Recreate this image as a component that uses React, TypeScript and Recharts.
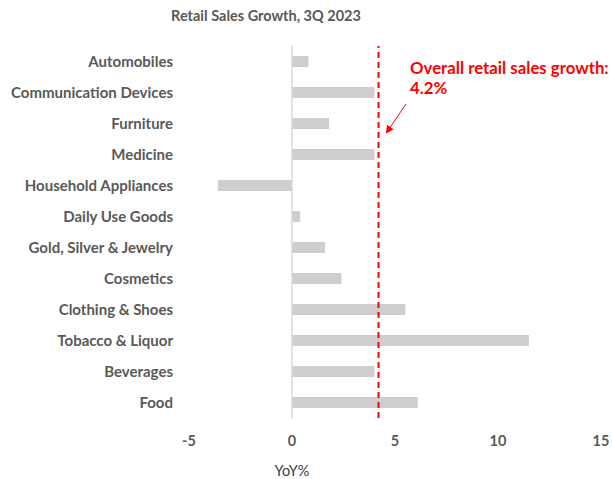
import {
  Bar,
  BarChart,
  ReferenceLine,
  XAxis,
  YAxis,
} from "recharts"

const categories = [
  "Automobiles",
  "Communication Devices",
  "Furniture",
  "Medicine",
  "Household Appliances",
  "Daily Use Goods",
  "Gold, Silver & Jewelry",
  "Cosmetics",
  "Clothing & Shoes",
  "Tobacco & Liquor",
  "Beverages",
  "Food",
]

const growth = [0.8, 4.0, 1.8, 4.0, -3.6, 0.4, 1.6, 2.4, 5.5, 11.5, 4.0, 6.1]

const xTicks = [-5, 0, 5, 10, 15]

const overallGrowth = 4.2

const FONT = "Lato, 'Open Sans', sans-serif"

export default function App() {
  const chartData = categories.map((name, i) => ({ name, value: growth[i] }))

  return (
    <div style={{ position: "absolute", left: 0, top: 0, width: 612, height: 479, background: "#fff", fontFamily: FONT }}>
      <BarChart
        width={612}
        height={479}
        data={chartData}
        layout="vertical"
        margin={{ top: 46, right: 11, left: 0, bottom: 0 }}
        barCategoryGap={20}
      >
        <XAxis
          type="number"
          domain={[-5, 15]}
          ticks={xTicks}
          axisLine={false}
          tickLine={false}
          tick={{ fill: "#595959", fontSize: 14.5, fontWeight: 700, fontFamily: FONT }}
          height={61}
          tickMargin={12}
        />
        <YAxis
          type="category"
          dataKey="name"
          axisLine={false}
          tickLine={false}
          width={189}
          tickMargin={10}
          interval={0}
          tick={{ fill: "#595959", fontSize: 15, fontWeight: 700, fontFamily: FONT }}
        />
        <ReferenceLine x={0} stroke="#d9d9d9" strokeWidth={1.5} />
        <Bar dataKey="value" fill="#cfcdcd" barSize={11} isAnimationActive={false} />
        <ReferenceLine
          x={overallGrowth}
          stroke="#ff0000"
          strokeWidth={2}
          strokeDasharray="6 4"
        />
      </BarChart>
      <svg style={{ position: "absolute", left: 0, top: 0, pointerEvents: "none" }} width={612} height={479}>
        <defs>
          <marker id="arrowHead" markerWidth="8" markerHeight="8" refX="6" refY="4" orient="auto" markerUnits="userSpaceOnUse">
            <path d="M0,0 L8,4 L0,8 z" fill="#ff0000" />
          </marker>
        </defs>
        <text x={266} y={21} fill="#595959" fontSize={14.5} fontWeight={700} textAnchor="middle" fontFamily={FONT}>
          Retail Sales Growth, 3Q 2023
        </text>
        <line x1={406} y1={104} x2={387} y2={132} stroke="#ff0000" strokeWidth={1} markerEnd="url(#arrowHead)" />
        <text x={410} y={74} fill="#ff0000" fontSize={16.8} fontWeight={700} fontFamily={FONT}>
          Overall retail sales growth:
        </text>
        <text x={410} y={94} fill="#ff0000" fontSize={16.8} fontWeight={700} fontFamily={FONT}>
          4.2%
        </text>
        <text x={292} y={476} fill="#404040" fontSize={14.5} textAnchor="middle" fontFamily={FONT}>
          YoY%
        </text>
      </svg>
    </div>
  )
}
